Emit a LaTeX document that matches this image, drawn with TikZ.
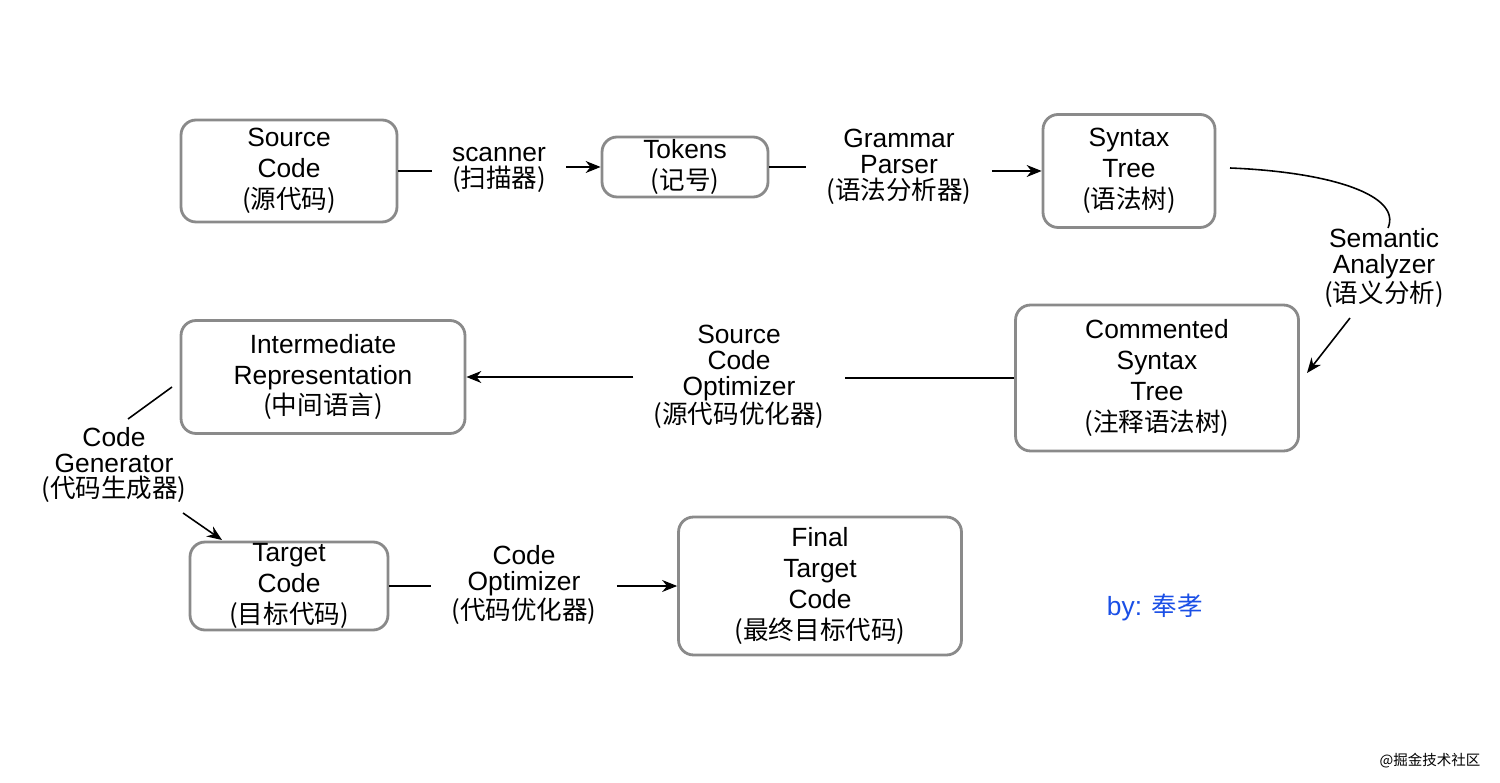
\documentclass[tikz,border=0pt]{standalone}
\usepackage{fontspec}
\setmainfont{Liberation Sans}
\newfontfamily\cjk[Scale=0.97]{Noto Sans CJK SC}
\usetikzlibrary{arrows.meta}
\definecolor{boxgray}{HTML}{8A8A8A}
\definecolor{byblue}{HTML}{1A4FE6}

\begin{document}
\begin{tikzpicture}[x=0.02cm,y=-0.02cm]
\tikzset{
  box/.style={draw=boxgray, line width=1.6pt, rounded corners=3mm, align=center, inner sep=0pt, font=\fontsize{15}{17.6}\selectfont},
  lbl/.style={align=center, inner xsep=4mm, inner ysep=0pt, font=\fontsize{15}{14.7}\selectfont},
  link/.style={line width=0.9pt},
  arr/.style={link, -{Stealth[length=3mm,width=2.4mm]}}
}

\useasboundingbox (0,0) rectangle (1500,783);

% boxes
\node (src) at (289,171) [box, minimum width=4.32cm, minimum height=2.04cm] {Source\\Code\\{\cjk (源代码)}};
\node (tok) at (685,167) [box, minimum width=3.32cm, minimum height=1.2cm] {Tokens\\{\cjk (记号)}};
\node (syn) at (1129,171) [box, minimum width=3.44cm, minimum height=2.26cm] {Syntax\\Tree\\{\cjk (语法树)}};
\node (cst) at (1157,378) [box, minimum width=5.66cm, minimum height=2.92cm] {Commented\\Syntax\\Tree\\{\cjk (注释语法树)}};
\node (ir) at (323,377) [box, minimum width=5.68cm, minimum height=2.26cm] {Intermediate\\Representation\\{\cjk (中间语言)}};
\node (tgt) at (289,586) [box, minimum width=3.96cm, minimum height=1.76cm] {Target\\Code\\{\cjk (目标代码)}};
\node (fin) at (820,586) [box, minimum width=5.66cm, minimum height=2.76cm] {Final\\Target\\Code\\{\cjk (最终目标代码)}};

% labels
\node (scan) at (499,170) [lbl] {scanner\\{\cjk (扫描器)}};
\node (gp) at (899,167) [lbl] {Grammar\\Parser\\{\cjk (语法分析器)}};
\node (sem) at (1384,268) [lbl] {Semantic\\Analyzer\\{\cjk (语义分析)}};
\node (sco) at (739,377) [lbl] {Source\\Code\\Optimizer\\{\cjk (源代码优化器)}};
\node (cg) at (114,465) [lbl] {Code\\Generator\\{\cjk (代码生成器)}};
\node (co) at (524,585) [lbl] {Code\\Optimizer\\{\cjk (代码优化器)}};

\coordinate (semA) at (1230,168);
\coordinate (semB) at (1388,228);
\coordinate (semC) at (1350,318);
\coordinate (semD) at (1307,373);
\coordinate (cgA) at (172,387);
\coordinate (cgB) at (128,419);
\coordinate (cgC) at (183,513);
\coordinate (cgD) at (222,540);

% connectors
\draw[link] (src.east) -- (src.east -| scan.west);
\draw[arr] (scan.east |- tok.west) -- (tok.west);
\draw[link] (tok.east) -- (tok.east -| gp.west);
\draw[arr] (gp.east |- syn.west) -- (syn.west);
\draw[link] (semA) .. controls (1330,172) and (1402,195) .. (semB);
\draw[arr] (semC) -- (semD);
\draw[link] (cst.west) -- (cst.west -| sco.east);
\draw[arr] (sco.west |- ir.east) -- (ir.east);
\draw[link] (cgA) -- (cgB);
\draw[arr] (cgC) -- (cgD);
\draw[link] (tgt.east) -- (tgt.east -| co.west);
\draw[arr] (co.east |- fin.west) -- (fin.west);

\node (by) at (1155,607) [text=byblue, font=\fontsize{15}{17}\selectfont] {by: {\cjk 奉孝}};
\node (mark) at (1430,761) [font=\fontsize{8.5}{10}\selectfont] {\cjk @掘金技术社区};

\end{tikzpicture}
\end{document}
